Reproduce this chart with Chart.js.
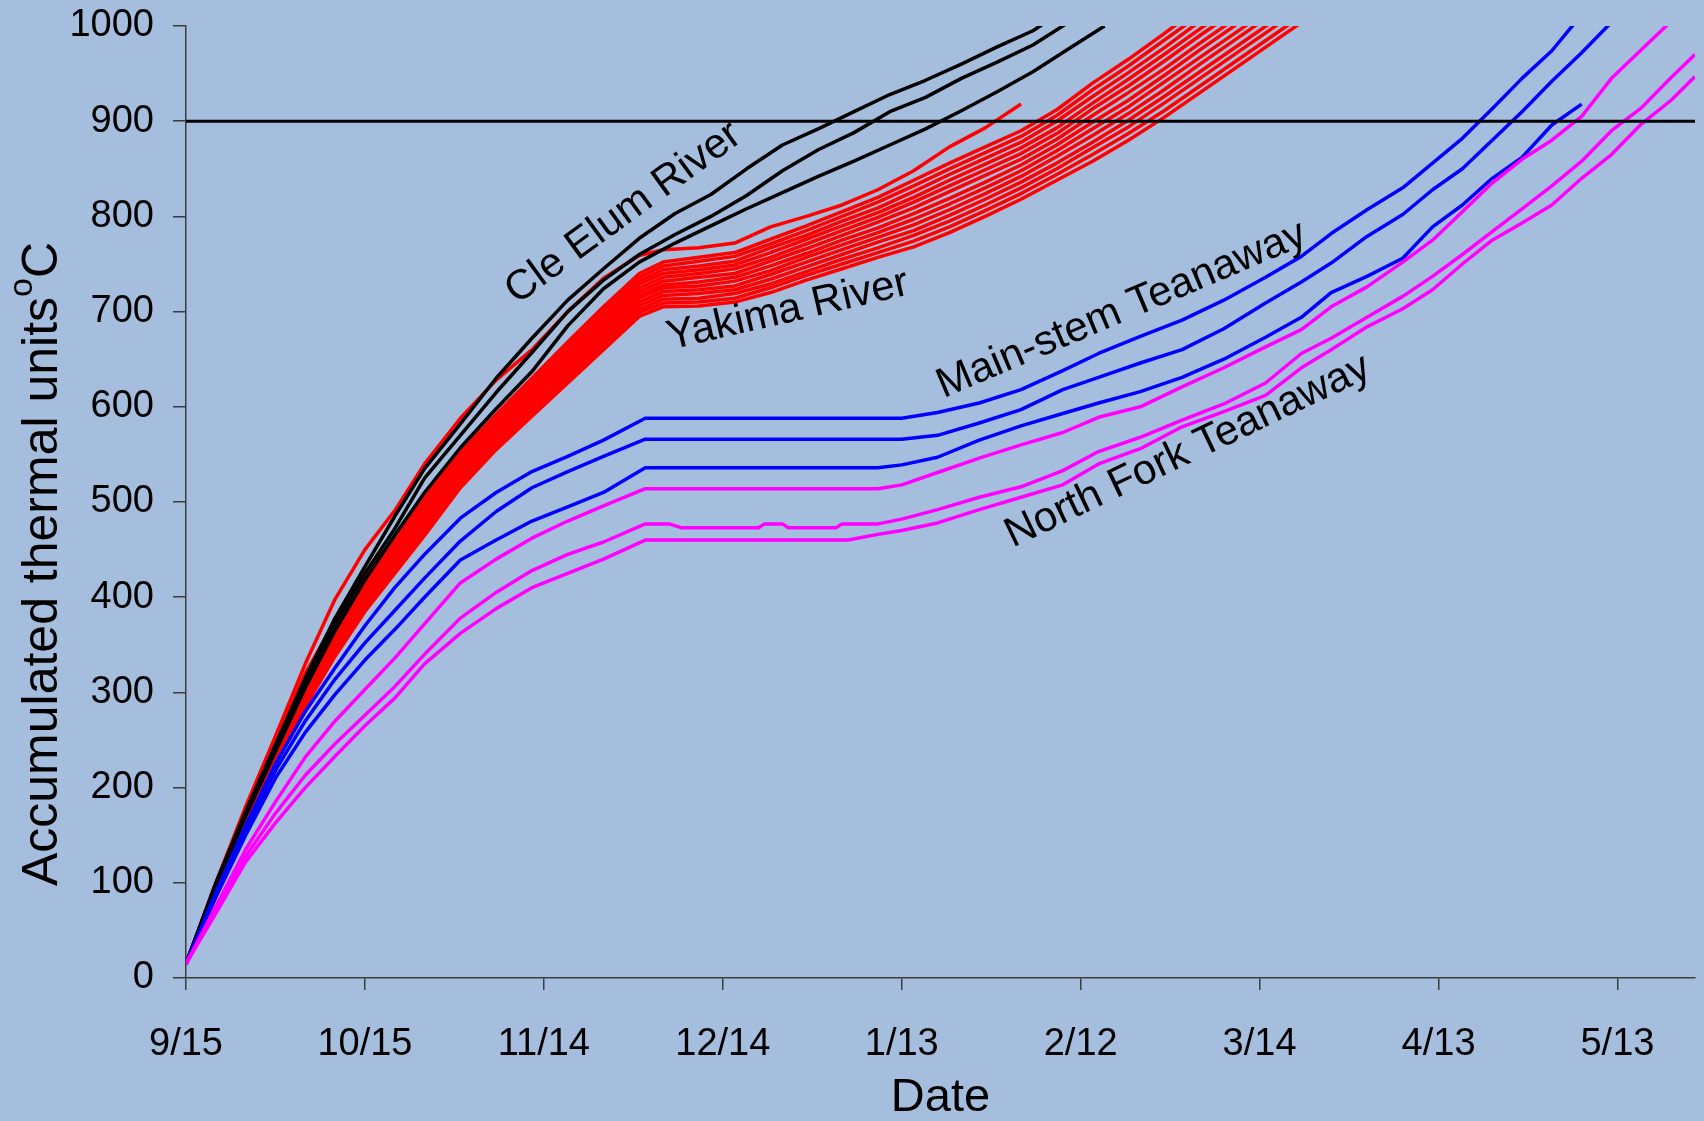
<!DOCTYPE html>
<html>
<head>
<meta charset="utf-8">
<script src="https://cdn.jsdelivr.net/npm/chart.js@4.4.1/dist/chart.umd.min.js"></script>
<style>
html,body{margin:0;padding:0;background:#a6bedd;overflow:hidden;}
canvas{display:block;}
</style>
</head>
<body>
<canvas id="c" width="1704" height="1121"></canvas>
<script>
// ---------- axis ticks ----------
const tickDays = [0, 30, 60, 90, 120, 150, 180, 210, 240];
const tickLabels = ['9/15', '10/15', '11/14', '12/14', '1/13', '2/12', '3/14', '4/13', '5/13'];
const yTicks = [0, 100, 200, 300, 400, 500, 600, 700, 800, 900, 1000];
const xMax = 253;
const threshold = 900;

// ---------- Yakima River (red) ----------
const yakimaDays = [0,5,10,15,20,25,30,35,40,46,52,58,64,70,76,80,86,92,98,104,110,116,122,128,134,140,146,152,158,164,170,176,182,188];
const yakima1  = [15,100,180,254,330,398,450,491,540,588,628,660,700,735,759,765,767,772,789,800,812,828,848,873,893,918,null,null,null,null,null,null,null,null];
const yakima2  = [15,97,175,250,320,375,425,462,505,552,592,630,668,705,740,752,757,762,776,790,805,820,838,856,873,890,912,940,965,992,1020,null,null,null];
const yakima3  = [15,96,173,248,317,372,422,459,502,549,589,627,664,701,736,748,753,758,771,785,800,815,832,850,867,884,906,933,958,985,1012,null,null,null];
const yakima4  = [15,95,172,246,314,369,418,456,498,546,586,623,661,697,732,744,748,753,767,780,795,809,826,844,861,878,900,926,951,977,1005,null,null,null];
const yakima5  = [15,94,170,244,311,366,415,453,495,543,583,620,657,694,729,740,744,749,762,776,790,804,820,838,855,872,893,919,944,970,997,1023,null,null];
const yakima6  = [15,93,168,242,308,363,412,450,492,540,580,617,654,690,725,736,740,745,757,771,785,799,815,832,849,866,887,913,937,963,990,1016,null,null];
const yakima7  = [15,92,167,240,305,360,408,447,488,537,577,613,650,686,721,732,736,740,753,766,780,794,809,826,843,860,881,906,930,955,982,1008,null,null];
const yakima8  = [15,91,165,238,303,357,405,444,485,534,574,610,647,682,717,728,731,736,748,761,775,788,803,819,836,854,875,899,922,948,975,1001,null,null];
const yakima9  = [15,90,163,235,300,353,402,440,482,530,570,607,643,679,714,725,727,732,743,757,770,783,797,813,830,848,869,892,915,941,967,993,1019,null];
const yakima10 = [15,89,162,233,297,350,398,437,478,527,567,603,639,675,710,721,723,727,739,752,765,778,791,807,824,842,863,885,908,933,960,986,1012,null];
const yakima11 = [15,88,160,231,294,347,395,434,475,524,564,600,636,671,706,717,719,723,734,747,760,773,785,801,818,836,856,878,901,926,952,978,1004,null];
const yakima12 = [15,87,158,229,291,344,392,431,472,521,561,597,632,667,702,713,714,719,729,742,755,767,780,795,812,830,850,872,894,919,945,971,997,1023];
const yakima13 = [15,86,157,227,288,341,388,428,468,518,558,593,629,664,699,709,710,714,725,738,750,762,774,789,806,824,844,865,887,911,937,963,989,1015];
const yakima14 = [15,85,155,225,285,338,385,425,465,515,555,590,625,660,695,705,706,710,720,733,745,757,768,783,800,818,838,858,880,904,930,956,982,1008];

// ---------- Cle Elum River (black) ----------
const cleElumDays = [0,5,10,15,20,25,30,35,40,46,52,58,64,70,76,82,88,94,100,106,112,118,124,130,136,142,148,154,160];
const cleElum1 = [15,100,175,245,315,378,432,485,535,582,630,672,712,745,777,803,823,850,875,892,910,928,943,960,978,995,1020,null,null];
const cleElum2 = [15,98,172,242,310,372,425,472,525,570,615,657,700,733,760,781,800,822,848,870,888,910,925,945,962,980,1004,null,null];
const cleElum3 = [15,96,170,238,305,365,418,465,510,557,598,637,685,724,752,772,790,808,825,842,858,875,892,911,931,952,976,1000,null];

// ---------- Main-stem Teanaway (blue) ----------
const mainStemDays = [0,5,10,15,20,25,30,35,40,46,52,58,64,70,77,116,120,126,133,140,147,153,160,167,174,181,187,192,198,204,209,214,219,224,229,234,239];
const mainStem1 = [15,90,160,225,280,326,370,410,445,483,510,532,548,565,588,588,588,594,604,618,638,656,674,691,712,736,758,782,807,830,856,882,913,945,974,1012,null];
const mainStem2 = [15,88,155,218,270,314,352,386,420,459,490,515,532,548,566,566,566,570,583,597,618,631,646,660,682,709,731,751,779,802,828,850,880,910,942,972,1004];
const mainStem3 = [15,85,150,210,258,298,334,366,400,439,460,480,495,510,536,536,539,547,565,580,593,604,616,631,650,673,694,720,737,756,789,812,840,862,896,918,null];

// ---------- North Fork Teanaway (magenta) ----------
const northForkDays = [0,5,10,15,20,25,30,35,40,46,52,58,64,70,77,81,83,96,97,100,101,109,110,111,116,120,126,133,140,147,153,160,167,174,181,187,192,198,204,209,214,219,224,229,234,239,244,249,253];
const northFork1 = [15,75,135,185,232,270,303,336,372,415,440,462,480,496,514,514,514,514,514,514,514,514,514,514,514,518,531,546,560,573,589,600,621,641,663,681,705,726,752,775,805,835,860,880,905,945,975,1005,null];
const northFork2 = [15,70,128,173,213,246,276,306,340,378,405,428,445,458,477,477,473,473,477,477,473,473,477,477,477,482,492,505,516,533,553,568,586,603,625,656,672,694,716,737,760,784,808,832,858,890,914,946,970];
const northFork3 = [15,68,122,163,200,233,265,294,330,362,388,410,425,440,460,460,460,460,460,460,460,460,460,460,466,470,478,492,505,518,540,556,579,595,612,641,660,684,703,723,750,775,793,812,840,865,897,922,947];

// ---------- group labels ----------
const groupLabels = ['Cle Elum River', 'Yakima River', 'Main-stem Teanaway', 'North Fork Teanaway'];
const yTitleMain = 'Accumulated thermal units';
const yTitleSup = 'o';
const yTitleUnit = 'C';
const xTitle = 'Date';

const FONT = '"Liberation Sans", Arial, Helvetica, sans-serif';
const BG = '#a6bedd';

function series(days, vals, color, order) {
  return {
    data: days.map((d, i) => ({ x: d, y: vals[i] })),
    borderColor: color,
    backgroundColor: color,
    borderWidth: 3.5,
    pointRadius: 0,
    pointHoverRadius: 0,
    tension: 0,
    fill: false,
    spanGaps: false,
    borderJoinStyle: 'round',
    order: order
  };
}

const datasets = [];
datasets.push({
  data: [{ x: 0, y: threshold }, { x: xMax, y: threshold }],
  borderColor: '#000000', borderWidth: 3, pointRadius: 0, order: 0, fill: false
});
[northFork1, northFork2, northFork3].forEach(v => datasets.push(series(northForkDays, v, '#ff00ff', 1)));
[mainStem1, mainStem2, mainStem3].forEach(v => datasets.push(series(mainStemDays, v, '#0000ff', 2)));
[cleElum1, cleElum2, cleElum3].forEach(v => datasets.push(series(cleElumDays, v, '#000000', 3)));
[yakima1, yakima2, yakima3, yakima4, yakima5, yakima6, yakima7, yakima8, yakima9, yakima10, yakima11, yakima12, yakima13, yakima14]
  .forEach(v => datasets.push(series(yakimaDays, v, '#ff0000', 4)));

// label anchors in data units (day, value) and rotation in degrees
const labelPlacement = [
  { day: 55.5, value: 707, angle: 36 },
  { day: 81.2, value: 660, angle: 13 },
  { day: 127.0, value: 609, angle: 23 },
  { day: 138.6, value: 452, angle: 25.5 }
];

const bgPlugin = {
  id: 'bg',
  beforeDraw(chart) {
    const ctx = chart.ctx;
    ctx.save();
    ctx.fillStyle = BG;
    ctx.fillRect(0, 0, chart.width, chart.height);
    ctx.restore();
  }
};

const labelPlugin = {
  id: 'groupLabels',
  afterDatasetsDraw(chart) {
    const ctx = chart.ctx;
    const xs = chart.scales.x, ys = chart.scales.y;
    ctx.save();
    ctx.fillStyle = '#000';
    ctx.font = '42px ' + FONT;
    ctx.textAlign = 'left';
    ctx.textBaseline = 'alphabetic';
    groupLabels.forEach((t, i) => {
      const p = labelPlacement[i];
      ctx.save();
      ctx.translate(xs.getPixelForValue(p.day), ys.getPixelForValue(p.value));
      ctx.rotate(-p.angle * Math.PI / 180);
      ctx.fillText(t, 0, 0);
      ctx.restore();
    });
    ctx.restore();
  }
};

const yTitlePlugin = {
  id: 'yTitle',
  afterDraw(chart) {
    const ctx = chart.ctx;
    ctx.save();
    ctx.fillStyle = '#000';
    ctx.textBaseline = 'alphabetic';
    ctx.textAlign = 'left';
    const mainFont = '50px ' + FONT, supFont = '34px ' + FONT;
    ctx.font = mainFont; const w1 = ctx.measureText(yTitleMain).width; const w3 = ctx.measureText(yTitleUnit).width;
    ctx.font = supFont; const w2 = ctx.measureText(yTitleSup).width;
    const total = w1 + w2 + w3;
    ctx.translate(57, 564);
    ctx.rotate(-Math.PI / 2);
    let x0 = -total / 2;
    ctx.font = mainFont; ctx.fillText(yTitleMain, x0, 0);
    ctx.font = supFont; ctx.fillText(yTitleSup, x0 + w1, -25);
    ctx.font = mainFont; ctx.fillText(yTitleUnit, x0 + w1 + w2, 0);
    ctx.restore();
  }
};

Chart.defaults.font.family = FONT;

new Chart(document.getElementById('c'), {
  type: 'line',
  data: { datasets },
  options: {
    responsive: false,
    animation: false,
    devicePixelRatio: 1,
    layout: { padding: { top: 26, right: 9, left: 0, bottom: 0 } },
    plugins: { legend: { display: false }, tooltip: { enabled: false } },
    elements: { line: { borderCapStyle: 'butt' } },
    scales: {
      x: {
        type: 'linear', min: 0, max: xMax,
        afterBuildTicks: s => { s.ticks = tickDays.map(v => ({ value: v })); },
        afterFit: s => { s.height = 143; s.paddingLeft = 0; s.paddingRight = 0; },
        ticks: {
          callback: (v, i) => tickLabels[i],
          font: { size: 38 }, color: '#000', padding: 32, maxRotation: 0, autoSkip: false
        },
        grid: { display: true, drawOnChartArea: false, drawTicks: true, tickLength: 12, color: '#3c3c3c', lineWidth: 1.5 },
        border: { display: true, color: '#3c3c3c', width: 1.5 },
        title: { display: true, text: xTitle, font: { size: 47 }, color: '#000', padding: { top: 0, bottom: -5 } }
      },
      y: {
        type: 'linear', min: 0, max: 1000,
        afterBuildTicks: s => { s.ticks = yTicks.map(v => ({ value: v })); },
        afterFit: s => { s.width = 186; s.paddingTop = 0; s.paddingBottom = 0; },
        ticks: {
          callback: (v, i) => String(yTicks[i]),
          font: { size: 38 }, color: '#000', padding: 19
        },
        grid: { display: true, drawOnChartArea: false, drawTicks: true, tickLength: 13, color: '#3c3c3c', lineWidth: 1.5 },
        border: { display: true, color: '#3c3c3c', width: 1.5 }
      }
    }
  },
  plugins: [bgPlugin, labelPlugin, yTitlePlugin]
});
</script>
</body>
</html>
